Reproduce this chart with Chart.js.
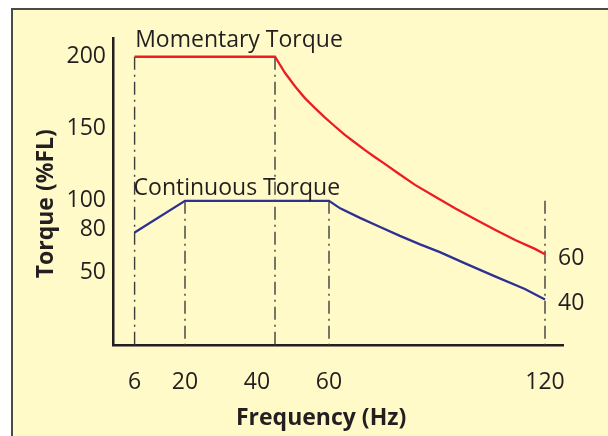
<!DOCTYPE html>
<html><head><meta charset="utf-8">
<script src="https://cdn.jsdelivr.net/npm/chart.js@4/dist/chart.umd.min.js"></script>
<style>
html,body{margin:0;padding:0;background:#fff;width:608px;height:436px;overflow:hidden;}
#frame{position:absolute;left:11px;top:8px;width:640px;height:460px;border-left:2px solid #4a4a4a;border-top:2px solid #4a4a4a;background:#FFFAC8;}
#wrap{position:absolute;left:0;top:0;width:608px;height:436px;}
</style></head><body>
<div id="frame"></div>
<div id="wrap"><canvas id="c" width="608" height="436"></canvas></div>
<script>
// ---- data ----
const freqTicks = [6, 20, 40, 60, 120];
const torqueTicks = [50, 80, 100, 150, 200];
const seriesNames = ['Momentary Torque', 'Continuous Torque'];
const momentaryX = [6, 45, 47.8, 50.6, 53.3, 56.1, 58.9, 61.7, 64.4, 67.2, 70, 72.8, 75.6, 79.2, 83.9, 89.4, 95, 100.6, 106.1, 111.7, 117.2, 120];
const momentaryY = [200, 200, 188.7, 179.4, 171.3, 164.4, 157.8, 151.6, 145.8, 140.5, 135.2, 130.3, 125.5, 119.2, 111.1, 103, 94.9, 87.3, 79.9, 72.9, 66.7, 63];
const continuousX = [6, 20, 60, 63.1, 68.6, 74.2, 79.7, 85.3, 90.8, 97.8, 106.1, 114.4, 120];
const continuousY = [78, 100, 100, 94.8, 88.2, 81.9, 75.7, 69.8, 64.4, 56.6, 47.6, 38.9, 31.6];
const endLabels = ['60', '40'];
const guideX = [6, 20, 45, 60, 120];
const guideTop = [200, 100, 200, 100, 100];
const xTitle = 'Frequency (Hz)';
const yTitle = 'Torque (%FL)';

const INK = '#231F20';
const FONT = '"Open Sans", "Noto Sans", sans-serif';
Chart.defaults.font.family = FONT;

const pts = (xs, ys) => xs.map((v, i) => ({x: v, y: ys[i]}));

const datasets = [
  {data: pts(momentaryX, momentaryY), borderColor: '#ED1C24', borderWidth: 2.3, pointRadius: 0, tension: 0, order: 1},
  {data: pts(continuousX, continuousY), borderColor: '#2E3192', borderWidth: 2.3, pointRadius: 0, tension: 0, order: 1}
];
guideX.forEach((gx, i) => {
  datasets.push({data: [{x: gx, y: guideTop[i]}, {x: gx, y: 0}], borderColor: '#3d3d3d', borderWidth: 1.4,
    borderDash: [13, 5, 2, 5], pointRadius: 0, order: 2});
});

const textPlugin = {
  id: 'texts',
  afterDraw(chart) {
    const {ctx, scales: {x, y}, chartArea} = chart;
    ctx.save();
    ctx.fillStyle = INK;
    ctx.font = '23px ' + FONT;
    ctx.textAlign = 'center';
    ctx.textBaseline = 'alphabetic';
    ctx.fillText(seriesNames[0], x.getPixelForValue(35), y.getPixelForValue(207));
    ctx.fillText(seriesNames[1], x.getPixelForValue(34.4), y.getPixelForValue(104.2));
    ctx.textAlign = 'left';
    const ends = [momentaryY[momentaryY.length - 1], continuousY[continuousY.length - 1]];
    ends.forEach((v, i) => {
      ctx.fillText(endLabels[i], x.getPixelForValue(120) + 13, y.getPixelForValue(v) + 11);
    });
    ctx.font = 'bold 23px ' + FONT;
    ctx.textAlign = 'center';
    ctx.fillText(xTitle, x.getPixelForValue(57.8), chartArea.bottom + 80);
    ctx.translate(chartArea.left - 60, y.getPixelForValue(98));
    ctx.rotate(-Math.PI / 2);
    ctx.fillText(yTitle, 0, 0);
    ctx.restore();
  }
};

new Chart(document.getElementById('c'), {
  type: 'line',
  data: {datasets},
  plugins: [textPlugin],
  options: {
    responsive: false,
    animation: false,
    events: [],
    layout: {padding: {left: 0, top: 38, right: 45, bottom: 0}},
    plugins: {legend: {display: false}, tooltip: {enabled: false}},
    scales: {
      x: {
        type: 'linear', min: 0, max: 125,
        afterBuildTicks: s => { s.ticks = freqTicks.map(v => ({value: v})); },
        afterFit: s => { s.height = 91; },
        grid: {display: false, drawTicks: false},
        border: {display: true, color: INK, width: 2.5},
        ticks: {padding: 24, color: INK, font: {size: 23}, maxRotation: 0, autoSkip: false}
      },
      y: {
        type: 'linear', min: 0, max: 213,
        afterBuildTicks: s => { s.ticks = torqueTicks.map(v => ({value: v})); },
        afterFit: s => { s.width = 113; },
        grid: {display: false, drawTicks: false},
        border: {display: true, color: INK, width: 2.5},
        ticks: {padding: 7, color: INK, font: {size: 23}, autoSkip: false}
      }
    }
  }
});
</script>
</body></html>
